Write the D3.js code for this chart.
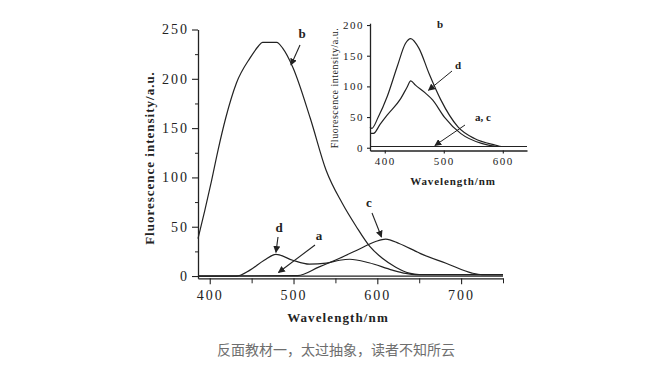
<!DOCTYPE html>
<html>
<head>
<meta charset="utf-8">
<script src="https://cdn.jsdelivr.net/npm/d3@7"></script>
<style>
  body { margin: 0; background: #fff; }
  svg { display: block; }
</style>
</head>
<body>
<div id="chart"></div>
<script>
// main spectrum, wavelength (nm) -> intensity (a.u.)
const curveA = [[386, 0], [450, 0], [550, 0], [650, 0], [750, 0]];
const curveB = [[386, 38], [394, 66], [402, 96], [410, 128], [419, 160], [432, 196], [448, 221], [458, 233],
  [463, 237], [480, 237], [487, 231], [499, 212], [520, 160], [539, 107], [558, 74], [575, 50], [591, 30],
  [606, 18], [622, 9], [638, 3], [650, 1.5], [750, 1.5]];
const curveC = [[386, 0], [505, 0.5], [530, 9], [555, 18], [580, 28], [598, 35], [610, 37.5], [626, 33],
  [646, 25], [651, 23], [682, 13], [713, 3], [725, 1.5], [750, 1.5]];
const curveD = [[386, 0], [432, 0], [448, 6], [465, 16], [479, 22], [499, 16], [519, 12], [539, 13],
  [555, 16], [567, 17], [590, 13.5], [618, 6], [634, 2.7], [645, 1.5], [750, 1.5]];

// inset spectrum
const insetB = [[375, 34], [378, 31.6], [389, 50], [404, 83], [421, 132], [435, 170], [444, 178], [458, 162],
  [475, 121], [495, 78], [524, 34], [552, 15], [587, 4.4], [598, 2], [641, 2]];
const insetD = [[375, 23.5], [381, 23.5], [392, 38], [404, 53], [427, 80], [438, 99], [444, 109], [452, 102],
  [469, 89], [481, 78], [501, 50], [529, 23], [564, 7], [593, 2], [641, 2]];
const insetAC = [[375, 2], [450, 2], [550, 2], [641, 2]];

const mainXTicks = [400, 500, 600, 700];
const mainXMinor = [450, 550, 650, 750];
const mainYTicks = [0, 50, 100, 150, 200, 250];
const mainYMinor = [25, 75, 125, 175, 225];
const insetXTicks = [400, 500, 600];
const insetYTicks = [0, 50, 100, 150, 200];

const W = 651, H = 370;
const ink = "#222";
const serif = "'Liberation Serif', 'DejaVu Serif', serif";

const svg = d3.select("#chart").append("svg")
  .attr("width", W).attr("height", H);

const defs = svg.append("defs");
defs.append("marker")
  .attr("id", "arrow")
  .attr("viewBox", "0 0 10 10")
  .attr("refX", 9).attr("refY", 5)
  .attr("markerWidth", 7).attr("markerHeight", 7)
  .attr("markerUnits", "userSpaceOnUse")
  .attr("orient", "auto")
  .append("path")
  .attr("d", "M0,0 L10,5 L0,10 z")
  .attr("fill", ink);

// ---------- main chart ----------
const x = d3.scaleLinear().domain([386, 750]).range([198, 503]);
const y = d3.scaleLinear().domain([-2.3, 250]).range([278.3, 29.5]);

const line = d3.line()
  .x(d => x(d[0])).y(d => y(d[1]))
  .curve(d3.curveMonotoneX);

const plot = svg.append("g");
[curveA, curveB, curveC, curveD].forEach(c => {
  plot.append("path")
    .attr("d", line(c))
    .attr("fill", "none")
    .attr("stroke", ink)
    .attr("stroke-width", 1.2);
});

function styleAxis(g, size, spacing) {
  g.select(".domain").attr("stroke", ink).attr("stroke-width", 1.3);
  g.selectAll(".tick line").attr("stroke", ink).attr("stroke-width", 1.1);
  g.selectAll(".tick text")
    .attr("font-family", serif)
    .attr("font-size", size + "px")
    .attr("letter-spacing", spacing + "px")
    .attr("fill", ink);
}

const xAxisG = svg.append("g")
  .attr("transform", `translate(0,${y(-2.3)})`)
  .call(d3.axisBottom(x).tickValues(mainXTicks).tickSize(6).tickSizeOuter(0).tickPadding(6));
styleAxis(xAxisG, 14, 2);
svg.append("g")
  .attr("transform", `translate(0,${y(-2.3)})`)
  .call(d3.axisBottom(x).tickValues(mainXMinor).tickSize(5).tickSizeOuter(0).tickFormat(""))
  .call(g => { g.select(".domain").remove(); g.selectAll("line").attr("stroke", ink); });

const yAxisG = svg.append("g")
  .attr("transform", `translate(${x(386)},0)`)
  .call(d3.axisLeft(y).tickValues(mainYTicks).tickSize(6).tickSizeOuter(0).tickPadding(3));
styleAxis(yAxisG, 14, 2);
svg.append("g")
  .attr("transform", `translate(${x(386)},0)`)
  .call(d3.axisLeft(y).tickValues(mainYMinor).tickSize(3).tickSizeOuter(0).tickFormat(""))
  .call(g => { g.select(".domain").remove(); g.selectAll("line").attr("stroke", ink); });

svg.append("text")
  .attr("x", 338).attr("y", 322)
  .attr("text-anchor", "middle")
  .attr("font-family", serif).attr("font-weight", "bold")
  .attr("font-size", "13px").attr("letter-spacing", "1.1px")
  .attr("fill", ink)
  .text("Wavelength/nm");

svg.append("text")
  .attr("transform", "translate(154,158) rotate(-90)")
  .attr("text-anchor", "middle")
  .attr("font-family", serif).attr("font-weight", "bold")
  .attr("font-size", "13px").attr("letter-spacing", "1px")
  .attr("fill", ink)
  .text("Fluorescence intensity/a.u.");

// curve labels and arrows (arrow tips sit on data points)
const mainLabels = [
  { t: "b", at: [497, 212], lx: 302, ly: 38, from: [300, 45] },
  { t: "c", at: [605, 37.5], lx: 369, ly: 207, from: [372, 213] },
  { t: "d", at: [479, 22], lx: 279, ly: 232, from: [278, 237] },
  { t: "a", at: [482, 1.5], lx: 319, ly: 240, from: [315, 245] }
];
mainLabels.forEach(l => {
  svg.append("text")
    .attr("x", l.lx).attr("y", l.ly)
    .attr("text-anchor", "middle")
    .attr("font-family", serif).attr("font-weight", "bold")
    .attr("font-size", "13px").attr("fill", ink)
    .text(l.t);
  svg.append("line")
    .attr("x1", l.from[0]).attr("y1", l.from[1])
    .attr("x2", x(l.at[0])).attr("y2", y(l.at[1]) - 2)
    .attr("stroke", ink).attr("stroke-width", 1.1)
    .attr("marker-end", "url(#arrow)");
});

// ---------- inset ----------
const ix = d3.scaleLinear().domain([375, 641]).range([370, 527]);
const iy = d3.scaleLinear().domain([-4.5, 203]).range([150.5, 23.2]);

const iline = d3.line()
  .x(d => ix(d[0])).y(d => iy(d[1]))
  .curve(d3.curveMonotoneX);

[insetB, insetD, insetAC].forEach(c => {
  svg.append("path")
    .attr("d", iline(c))
    .attr("fill", "none")
    .attr("stroke", ink)
    .attr("stroke-width", 1.2);
});

const ixAxis = svg.append("g")
  .attr("transform", `translate(0,${iy(-4.5)})`)
  .call(d3.axisBottom(ix).tickValues(insetXTicks).tickSize(3).tickSizeOuter(0).tickPadding(4));
styleAxis(ixAxis, 11, 1.5);

const iyAxis = svg.append("g")
  .attr("transform", `translate(${ix(375)},0)`)
  .call(d3.axisLeft(iy).tickValues(insetYTicks).tickSize(3).tickSizeOuter(0).tickPadding(3));
styleAxis(iyAxis, 11, 1.5);

svg.append("text")
  .attr("x", 453).attr("y", 185)
  .attr("text-anchor", "middle")
  .attr("font-family", serif).attr("font-weight", "bold")
  .attr("font-size", "11px").attr("letter-spacing", "0.9px")
  .attr("fill", ink)
  .text("Wavelength/nm");

svg.append("text")
  .attr("transform", "translate(337.5,88) rotate(-90)")
  .attr("text-anchor", "middle")
  .attr("font-family", serif)
  .attr("font-size", "10px").attr("letter-spacing", "0.5px")
  .attr("fill", ink)
  .text("Fluorescence intensity/a.u.");

const insetLabels = [
  { t: "b", lx: 440, ly: 28 },
  { t: "d", lx: 458, ly: 69, from: [452, 71], at: [474, 92] },
  { t: "a, c", lx: 483, ly: 121, from: [465, 125], at: [485, 2] }
];
insetLabels.forEach(l => {
  svg.append("text")
    .attr("x", l.lx).attr("y", l.ly)
    .attr("text-anchor", "middle")
    .attr("font-family", serif).attr("font-weight", "bold")
    .attr("font-size", "11px").attr("fill", ink)
    .text(l.t);
  if (l.from) {
    svg.append("line")
      .attr("x1", l.from[0]).attr("y1", l.from[1])
      .attr("x2", ix(l.at[0])).attr("y2", iy(l.at[1]) - 1)
      .attr("stroke", ink).attr("stroke-width", 1)
      .attr("marker-end", "url(#arrow)");
  }
});

// caption
svg.append("text")
  .attr("x", 336).attr("y", 355)
  .attr("text-anchor", "middle")
  .attr("font-family", "'Noto Sans CJK SC', sans-serif")
  .attr("font-size", "14px")
  .attr("fill", "#6e6e6e")
  .text("反面教材一，太过抽象，读者不知所云");
</script>
</body>
</html>
